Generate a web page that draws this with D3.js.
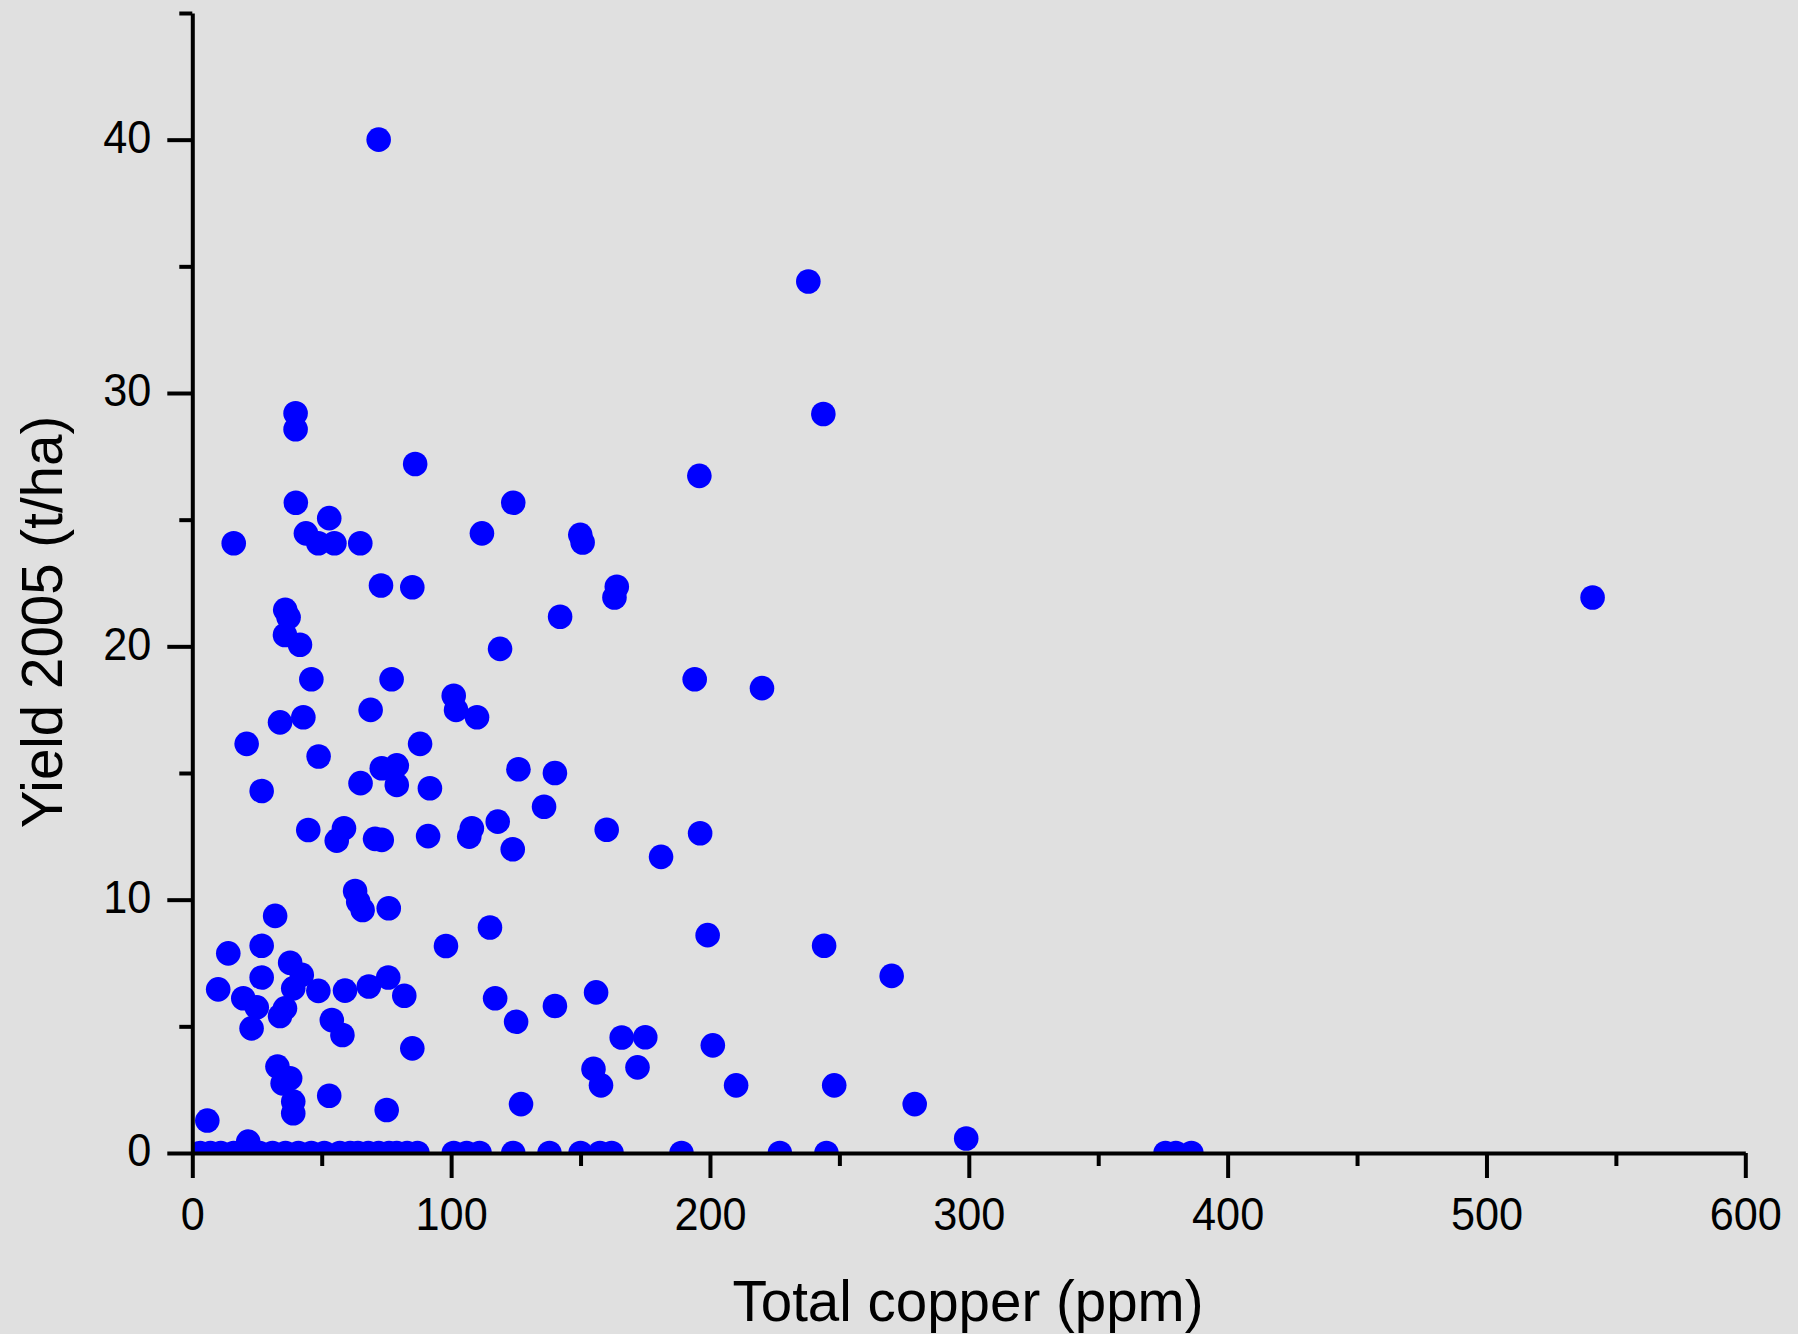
<!DOCTYPE html>
<html>
<head>
<meta charset="utf-8">
<script src="https://cdn.jsdelivr.net/npm/d3@7"></script>
<style>
  body { margin: 0; background: #e0e0e0; }
  svg { display: block; font-family: "Liberation Sans", Arial, sans-serif; }
  .axis path, .axis line { stroke: #000; stroke-width: 4; }
  .axis text { fill: #000; font-size: 46px; }
  .title { font-size: 56.5px; fill: #000; }
</style>
</head>
<body>
<script>
// total copper (ppm) and yield 2005 (t/ha)
var copper = [72, 238, 39.9, 39.9, 243.8, 86.1, 195.9, 40, 124, 52.9, 43.9, 111.9, 16, 48.7, 54.9, 64.9,
    149.9, 150.8, 72.9, 85, 164, 163.1, 541, 35.9, 37.2, 142.1, 35.8, 41.6, 118.9, 46, 77, 194.1,
    220.1, 101, 101.9, 68.9, 110, 42.9, 33.9, 21, 88, 48.8, 126, 140.1, 73.2, 79, 65, 79, 91.8, 26.8,
    135.9, 118, 160.1, 196.2, 44.8, 58.6, 55.8, 70.6, 73.2, 91.1, 108, 107, 123.8, 181.1, 62.9, 64.1,
    65.8, 75.9, 32, 115, 199.1, 26.8, 98, 244.1, 13.9, 37.8, 26.8, 75.7, 42.3, 270.2, 39, 10, 48.7,
    59, 68.2, 81.9, 117, 156, 140.1, 19.7, 24.9, 35.8, 33.9, 125.1, 53.9, 58, 22.9, 165.9, 175,
    201.1, 85, 32.9, 155, 172, 37.8, 34.9, 157.9, 210.1, 248, 52.9, 39, 127, 279.1, 75.1, 39, 5.8,
    299, 21.6];
var yieldT = [40.0, 34.4, 29.2, 28.57, 29.17, 27.2, 26.73, 25.67, 25.67, 25.06, 24.46, 24.46, 24.07, 24.07, 24.07, 24.07,
    24.4, 24.1, 22.4, 22.33, 22.35, 21.93, 21.93, 21.44, 21.15, 21.17, 20.45, 20.06, 19.9, 18.7, 18.7, 18.7,
    18.35, 18.05, 17.49, 17.49, 17.2, 17.2, 17.0, 16.15, 16.15, 15.65, 15.15, 15.0, 15.19, 15.3, 14.6, 14.53, 14.4, 14.29,
    13.67, 13.08, 12.76, 12.62, 12.75, 12.82, 12.33, 12.4, 12.36, 12.51, 12.82, 12.49, 11.99, 11.69, 10.34, 9.92,
    9.59, 9.66, 9.36, 8.9, 8.6, 8.18, 8.17, 8.18, 7.88, 7.51, 6.93, 6.93, 7.03, 6.99, 6.5, 6.46, 6.4,
    6.41, 6.57, 6.21, 6.11, 6.34, 5.8, 6.11, 5.75, 5.71, 5.41, 5.18, 5.25, 4.66, 4.92, 4.56, 4.57,
    4.25, 4.13, 3.41, 3.32, 3.38, 2.95, 2.75, 2.67, 2.67, 2.67, 2.26, 2.03, 1.93, 1.93, 1.7, 1.57, 1.28,
    0.57, 0.45];
// plots with zero yield (copper only)
var copperZero = [3, 7, 11, 16, 26, 31, 36, 41, 46, 51, 57, 61, 64, 68, 72, 76, 79, 83, 87,
    101, 106, 111, 124, 138, 150, 157.5, 162, 189, 227, 245, 376, 380, 386];

var xTicks = d3.range(0, 601, 50),
    yTicks = d3.range(0, 46, 5);

var width = 1798,
    height = 1334,
    squeeze = 0.94; // tick labels are a little narrower than Liberation Sans

var x = d3.scaleLinear()
    .domain([0, 600])
    .range([192.3, 1745.3]);

var y = d3.scaleLinear()
    .domain([0, 45])
    .range([1153, 13]);

var svg = d3.select("body").append("svg")
    .attr("width", width)
    .attr("height", height);

svg.append("rect")
    .attr("width", width)
    .attr("height", height)
    .attr("fill", "#e0e0e0");

// points sitting on zero get cut by the axis
svg.append("clipPath")
    .attr("id", "plot-clip")
  .append("rect")
    .attr("x", x(0))
    .attr("y", 0)
    .attr("width", x(600) - x(0) + 20)
    .attr("height", y(0));

var points = copper.map(function(c, i) { return [c, yieldT[i]]; })
    .concat(copperZero.map(function(c) { return [c, 0]; }));

svg.append("g")
    .attr("clip-path", "url(#plot-clip)")
  .selectAll("circle")
    .data(points)
    .enter().append("circle")
    .attr("cx", function(d) { return x(d[0]); })
    .attr("cy", function(d) { return y(d[1]); })
    .attr("r", 12.3)
    .attr("fill", "#0000ff");

var xAxis = svg.append("g")
    .attr("class", "axis")
    .attr("transform", "translate(0," + y(0) + ")")
    .call(d3.axisBottom(x)
        .tickValues(xTicks)
        .tickSizeOuter(0)
        .tickFormat(function(d) { return d % 100 === 0 ? d : ""; }));

xAxis.selectAll(".tick line")
    .attr("y2", function(d) { return d % 100 === 0 ? 25 : 13; });
xAxis.selectAll(".tick text")
    .attr("y", 77)
    .attr("dy", 0)
    .attr("transform", "scale(" + squeeze + ",1)");

var yAxis = svg.append("g")
    .attr("class", "axis")
    .attr("transform", "translate(" + x(0) + ",0)")
    .call(d3.axisLeft(y)
        .tickValues(yTicks)
        .tickSizeOuter(0)
        .tickFormat(function(d) { return d % 10 === 0 ? d : ""; }));

yAxis.selectAll(".tick line")
    .attr("x2", function(d) { return d % 10 === 0 ? -25 : -13; });
yAxis.selectAll(".tick text")
    .attr("x", -41 / squeeze)
    .attr("dy", "0.28em")
    .attr("transform", "scale(" + squeeze + ",1)");

svg.selectAll(".axis path").attr("fill", "none");

svg.append("text")
    .attr("class", "title")
    .attr("x", 968)
    .attr("y", 1321)
    .attr("text-anchor", "middle")
    .text("Total copper (ppm)");

svg.append("text")
    .attr("class", "title")
    .attr("transform", "translate(62,622) rotate(-90)")
    .attr("text-anchor", "middle")
    .text("Yield 2005 (t/ha)");
</script>
</body>
</html>
